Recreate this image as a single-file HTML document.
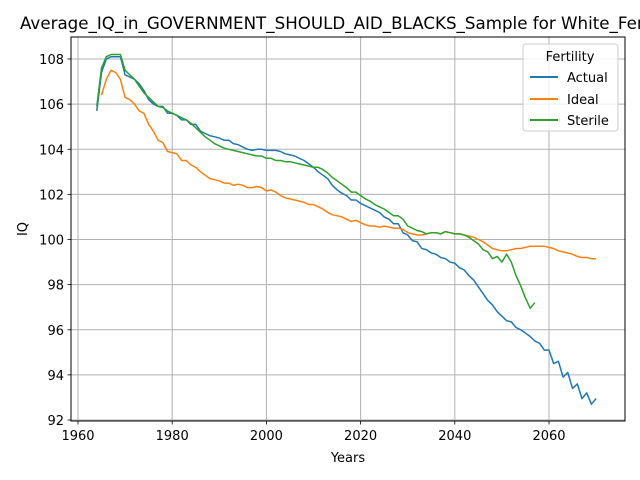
<!DOCTYPE html>
<html><head><meta charset="utf-8"><style>
body{margin:0;background:#fff}
svg{display:block;font-family:"DejaVu Sans","Liberation Sans",sans-serif}
</style></head><body>
<svg id="chart" width="640" height="480" viewBox="0 0 640 480">
<rect width="640" height="480" fill="#fff"/>
<text x="20" y="29" font-size="16.7" fill="#000">Average_IQ_in_GOVERNMENT_SHOULD_AID_BLACKS_Sample for White_Fertility</text>
<g id="grid"></g>
<g id="series"></g>
<rect x="71" y="37" width="554" height="384" fill="none" stroke="#000" stroke-width="1"/>
<g id="ticks"></g>
<text x="348" y="462" font-size="13" text-anchor="middle">Years</text>
<text x="27" y="229" font-size="13" text-anchor="middle" transform="rotate(-90 27 229)">IQ</text>
<g>
<rect x="523" y="44" width="95" height="87" rx="3" fill="#fff" fill-opacity="0.8" stroke="#ccc"/>
<text x="570" y="61" font-size="13" text-anchor="middle">Fertility</text>
<line x1="530" y1="77" x2="558" y2="77" stroke="#1f77b4" stroke-width="2"/>
<text x="567" y="82" font-size="13">Actual</text>
<line x1="530" y1="99" x2="558" y2="99" stroke="#ff7f0e" stroke-width="2"/>
<text x="567" y="104" font-size="13">Ideal</text>
<line x1="530" y1="120" x2="558" y2="120" stroke="#2ca02c" stroke-width="2"/>
<text x="567" y="125" font-size="13">Sterile</text>
</g>
</svg>
<script>
const xTicks=[1960,1980,2000,2020,2040,2060];
const yTicks=[92,94,96,98,100,102,104,106,108];
const actualStart=1964;
const actualValues=[105.7,107.4,108.0,108.1,108.1,108.1,107.3,107.2,107.1,106.9,106.6,106.2,106.0,105.9,105.9,105.6,105.6,105.5,105.3,105.3,105.1,105.1,104.8,104.7,104.6,104.55,104.5,104.4,104.4,104.25,104.2,104.1,104.0,103.95,104.0,104.0,103.95,103.95,103.95,103.9,103.8,103.75,103.7,103.6,103.5,103.35,103.2,103.0,102.85,102.7,102.4,102.2,102.05,101.95,101.75,101.75,101.6,101.5,101.4,101.3,101.2,101.0,100.9,100.7,100.7,100.3,100.2,99.95,99.9,99.6,99.55,99.4,99.35,99.2,99.15,99.0,98.95,98.75,98.65,98.4,98.2,97.9,97.6,97.3,97.1,96.8,96.6,96.4,96.35,96.1,96.0,95.85,95.7,95.5,95.4,95.1,95.1,94.5,94.6,93.9,94.1,93.4,93.6,92.95,93.2,92.7,92.95];
const idealStart=1965;
const idealValues=[106.4,107.1,107.5,107.4,107.1,106.3,106.2,106.0,105.7,105.6,105.1,104.8,104.4,104.3,103.9,103.85,103.8,103.5,103.5,103.3,103.2,103.0,102.85,102.7,102.65,102.6,102.5,102.5,102.4,102.45,102.4,102.3,102.3,102.35,102.3,102.15,102.2,102.1,101.95,101.85,101.8,101.75,101.7,101.65,101.55,101.55,101.45,101.35,101.2,101.1,101.05,101.0,100.9,100.8,100.85,100.75,100.65,100.6,100.6,100.55,100.6,100.55,100.5,100.5,100.45,100.3,100.25,100.2,100.2,100.25,100.3,100.3,100.25,100.35,100.3,100.25,100.25,100.2,100.15,100.1,100.0,99.9,99.75,99.6,99.55,99.5,99.5,99.55,99.6,99.6,99.65,99.7,99.7,99.7,99.7,99.65,99.6,99.5,99.45,99.4,99.35,99.25,99.2,99.2,99.15,99.15];
const sterileStart=1964;
const sterileValues=[105.9,107.6,108.1,108.2,108.2,108.2,107.5,107.3,107.1,106.8,106.5,106.3,106.1,105.9,105.85,105.7,105.6,105.5,105.4,105.3,105.15,104.95,104.75,104.55,104.4,104.25,104.15,104.05,104.0,103.95,103.9,103.85,103.8,103.75,103.7,103.7,103.6,103.6,103.5,103.5,103.45,103.45,103.4,103.35,103.3,103.25,103.2,103.2,103.1,102.95,102.75,102.6,102.45,102.3,102.1,102.1,101.95,101.8,101.7,101.55,101.45,101.35,101.2,101.05,101.05,100.9,100.6,100.5,100.4,100.35,100.25,100.3,100.3,100.25,100.35,100.3,100.25,100.25,100.2,100.1,99.95,99.8,99.55,99.45,99.15,99.25,99.0,99.35,99.0,98.4,97.95,97.4,96.95,97.2];

const NS='http://www.w3.org/2000/svg';
function xs(yr){return 78+(yr-1960)*(549-78)/100;}
function ys(v){return 59+(108-v)*(420-59)/16;}
const grid=document.getElementById('grid'),ticks=document.getElementById('ticks'),series=document.getElementById('series');
function mk(tag,attrs,parent){const e=document.createElementNS(NS,tag);for(const k in attrs)e.setAttribute(k,attrs[k]);parent.appendChild(e);return e;}
xTicks.forEach(t=>{const x=xs(t);
 const g=mk('line',{x1:x,x2:x,y1:37,y2:421,stroke:'#b0b0b0','stroke-width':1},grid);
 
 
 const tk=mk('line',{x1:x,x2:x,y1:421,y2:424.5,stroke:'#000','stroke-width':0.8},ticks);
 
 
 const tl=mk('text',{x:x,y:440,'font-size':13,'text-anchor':'middle'},ticks);tl.textContent=t;
 
 
});
yTicks.forEach(t=>{const y=ys(t);
 const g=mk('line',{x1:71,x2:625,y1:y,y2:y,stroke:'#b0b0b0','stroke-width':1},grid);
 
 
 const tk=mk('line',{x1:67.5,x2:71,y1:y,y2:y,stroke:'#000','stroke-width':0.8},ticks);
 
 
 const tl=mk('text',{x:64,y:y+5,'font-size':13,'text-anchor':'end'},ticks);tl.textContent=t;
 
 
});
function drawLine(start,vals,color,name){
 const pts=vals.map((v,i)=>xs(start+i).toFixed(1)+','+ys(v).toFixed(1)).join(' ');
 const p=mk('polyline',{points:pts,fill:'none',stroke:color,'stroke-width':1.5,'stroke-linejoin':'round'},series);
 
 
}
drawLine(actualStart,actualValues,'#1f77b4','actual-line');
drawLine(idealStart,idealValues,'#ff7f0e','ideal-line');
drawLine(sterileStart,sterileValues,'#2ca02c','sterile-line');
</script>
</body></html>
